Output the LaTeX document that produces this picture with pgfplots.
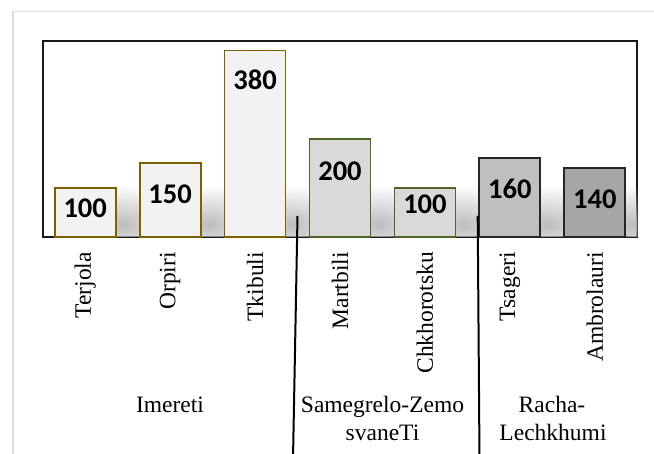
\documentclass[border=0pt]{standalone}
\usepackage{pgfplots}
\pgfplotsset{compat=1.18}
\usetikzlibrary{fadings}
\usepackage{fontspec}
\setmainfont{Liberation Serif}
\newfontfamily\calib{Carlito}
\definecolor{imfill}{HTML}{F2F2F2}
\definecolor{imdraw}{HTML}{7F6000}
\definecolor{sgfill}{HTML}{D9D9D9}
\definecolor{sgdraw}{HTML}{4F6228}
\definecolor{rafill}{HTML}{BFBFBF}
\definecolor{rbfill}{HTML}{A6A6A6}
\definecolor{framegray}{HTML}{DDDDDD}
\tikzfading[name=shfade, inner color=transparent!0, outer color=transparent!100]
\newcommand{\tlfont}{\fontsize{23.5}{27.4}\selectfont}
\newcommand{\vlfont}{\calib\bfseries\fontsize{28.5}{30}\selectfont}
\begin{document}
\begin{tikzpicture}[x=1pt,y=1pt]
\useasboundingbox (0,0) rectangle (654,454);
\clip (0,0) rectangle (654,454);
\fill[white] (0,0) rectangle (654,454);
\draw[framegray, line width=1.8pt] (13.3,-10) -- (13.3,442.5) -- (700,442.5);
\begin{axis}[
  at={(42.7pt,217.3pt)}, anchor=south west,
  scale only axis, width=594.6pt, height=196pt,
  xmin=-0.5, xmax=6.5, ymin=0, ymax=400,
  ybar, bar width=61pt, bar shift=0pt,
  axis line style={line width=2pt, black!90},
  xtick={0,...,6},
  xticklabels={Terjola,Orpiri,Tkibuli,Martbili,Chkhorotsku,Tsageri,Ambrolauri},
  ytick=\empty, major tick length=0pt,
  xticklabel shift=15.3pt,
  xticklabel style={rotate=90, anchor=east, inner sep=0pt, font=\tlfont},
  clip=false,
]
\begin{scope}
\clip (axis cs:-0.5,0) rectangle (axis cs:6.5,400);
\pgfplotsinvokeforeach{0,...,6}{
  \fill[black!26, path fading=shfade] (axis cs:#1-0.206,-55) rectangle (axis cs:#1+1.112,105);
}
\end{scope}
\addplot[draw=imdraw, fill=imfill, line width=1.8pt] coordinates {(0,100) (1,150) (2,380)};
\addplot[draw=sgdraw, fill=sgfill, line width=1.8pt] coordinates {(3,200) (4,100)};
\addplot[draw=black!85, fill=rafill, line width=1.8pt] coordinates {(5,160)};
\addplot[draw=black!85, fill=rbfill, line width=1.8pt] coordinates {(6,140)};
\node[anchor=base, inner sep=0pt, font=\vlfont, yshift=-29.7pt] at (axis cs:0,100) {100};
\node[anchor=base, inner sep=0pt, font=\vlfont, yshift=-40pt] at (axis cs:1,150) {150};
\node[anchor=base, inner sep=0pt, font=\vlfont, yshift=-39.3pt] at (axis cs:2,380) {380};
\node[anchor=base, inner sep=0pt, font=\vlfont, yshift=-41.7pt] at (axis cs:3,200) {200};
\node[anchor=base, inner sep=0pt, font=\vlfont, yshift=-26pt] at (axis cs:4,100) {100};
\node[anchor=base, inner sep=0pt, font=\vlfont, yshift=-40.3pt] at (axis cs:5,160) {160};
\node[anchor=base, inner sep=0pt, font=\vlfont, yshift=-40.7pt] at (axis cs:6,140) {140};
\end{axis}
\draw[line width=2pt, black] (297.5,238) -- (293,-5);
\draw[line width=2pt, black] (477.7,238) -- (479.5,-5);
\node[anchor=base, font=\tlfont] at (170,41) {Imereti};
\node[anchor=base, font=\tlfont] at (382.5,41) {Samegrelo-Zemo};
\node[anchor=base, font=\tlfont] at (382.5,13.3) {svaneTi};
\node[anchor=base, font=\tlfont] at (552,41) {Racha-};
\node[anchor=base, font=\tlfont] at (553,13.3) {Lechkhumi};
\end{tikzpicture}
\end{document}
